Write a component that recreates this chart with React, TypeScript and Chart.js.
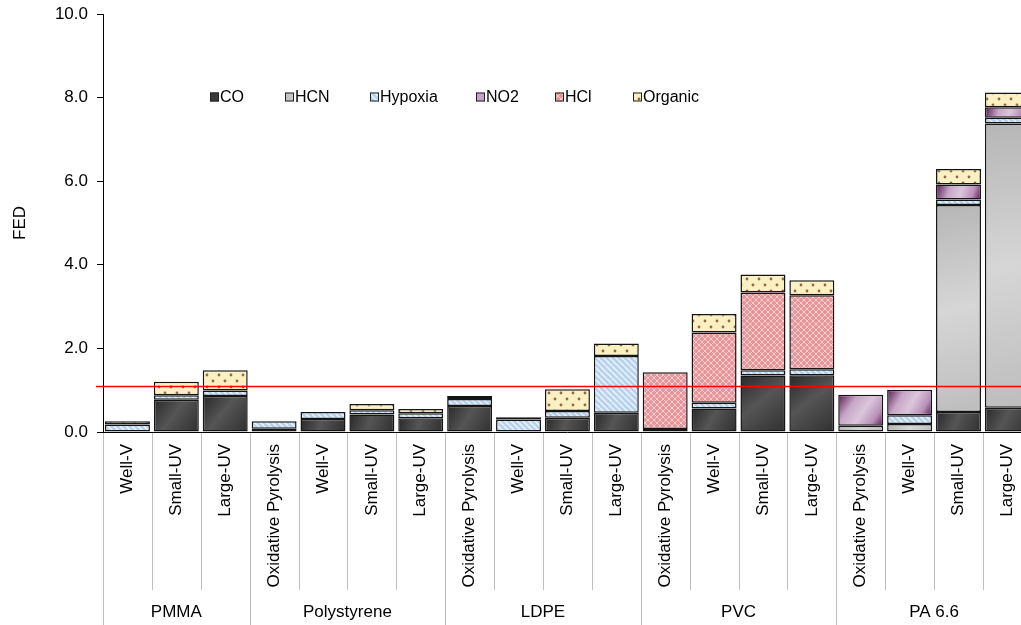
import React, { useEffect, useRef } from "react";
import { Chart, registerables } from "chart.js";

Chart.register(...registerables);

const CATEGORIES = [
  "Well-V", "Small-UV", "Large-UV",
  "Oxidative Pyrolysis", "Well-V", "Small-UV", "Large-UV",
  "Oxidative Pyrolysis", "Well-V", "Small-UV", "Large-UV",
  "Oxidative Pyrolysis", "Well-V", "Small-UV", "Large-UV",
  "Oxidative Pyrolysis", "Well-V", "Small-UV", "Large-UV",
];
const GROUPS = ["PMMA", "Polystyrene", "LDPE", "PVC", "PA 6.6"];
const GROUP_SIZES = [3, 4, 4, 4, 4];

const SERIES_NAMES = ["CO", "HCN", "Hypoxia", "NO2", "HCl", "Organic"];
const CO = [0, 0.77, 0.86, 0.08, 0.31, 0.42, 0.33, 0.62, 0, 0.34, 0.46, 0.07, 0.56, 1.35, 1.36, 0, 0, 0.48, 0.58];
const HCN = [0, 0, 0, 0, 0, 0, 0, 0, 0, 0, 0, 0, 0, 0, 0, 0.15, 0.19, 4.95, 6.8];
const HYPOXIA = [0.18, 0.11, 0.13, 0.18, 0.17, 0.1, 0.12, 0.17, 0.3, 0.16, 1.36, 0, 0.14, 0.13, 0.14, 0, 0.21, 0.13, 0.14];
const NO2 = [0, 0, 0, 0, 0, 0, 0, 0, 0, 0, 0, 0, 0, 0, 0, 0.74, 0.61, 0.36, 0.25];
const HCL = [0, 0, 0, 0, 0, 0, 0, 0, 0, 0, 0, 1.36, 1.68, 1.86, 1.77, 0, 0, 0, 0];
const ORGANIC = [0.08, 0.32, 0.49, 0, 0, 0.15, 0.1, 0.07, 0.05, 0.52, 0.3, 0, 0.44, 0.43, 0.36, 0, 0, 0.37, 0.35];
const SERIES = [CO, HCN, HYPOXIA, NO2, HCL, ORGANIC];

const Y_MIN = 0;
const Y_MAX = 10;
const Y_STEP = 2;
const Y_TITLE = "FED";
const THRESHOLD = 1.1;

const FONT = "'Liberation Sans', Arial, sans-serif";
const LEGEND_OFFSETS = [107, 182, 267, 373, 452, 530];

function segRange(ds: number, i: number): [number, number] {
  let base = 0;
  for (let k = 0; k < ds; k++) base += SERIES[k][i] || 0;
  return [base, base + (SERIES[ds][i] || 0)];
}

function gradientFill(stops: [number, string][], fallback: string) {
  return (c: any) => {
    const chart = c.chart;
    const xs = chart.scales?.x;
    const ys = chart.scales?.y;
    if (!xs || !ys || c.type !== "data" || !chart.chartArea) return fallback;
    const cx = xs.getPixelForValue(c.dataIndex);
    const [b, t] = segRange(c.datasetIndex, c.dataIndex);
    const y0 = ys.getPixelForValue(t);
    const y1 = ys.getPixelForValue(b);
    const hw = 22;
    const g = chart.ctx.createLinearGradient(cx - hw, y0, cx + hw, Math.max(y1, y0 + 1));
    stops.forEach(([o, col]) => g.addColorStop(o, col));
    return g;
  };
}

function makePattern(ctx: CanvasRenderingContext2D, size: number, draw: (g: CanvasRenderingContext2D, s: number) => void) {
  const c = document.createElement("canvas");
  c.width = size;
  c.height = size;
  const g = c.getContext("2d")!;
  draw(g, size);
  return ctx.createPattern(c, "repeat")!;
}

export default function App() {
  const ref = useRef<HTMLCanvasElement | null>(null);

  useEffect(() => {
    const canvas = ref.current!;
    const ctx = canvas.getContext("2d")!;

    const hypoxiaPat = makePattern(ctx, 6, (g, s) => {
      g.fillStyle = "#b6d2ef";
      g.fillRect(0, 0, s, s);
      g.strokeStyle = "#eaf2fb";
      g.lineWidth = 1.6;
      for (const k of [-s, 0, s]) {
        g.beginPath();
        g.moveTo(k, 0);
        g.lineTo(k + s, s);
        g.stroke();
      }
    });
    const hclPat = makePattern(ctx, 6, (g, s) => {
      g.fillStyle = "#e8959a";
      g.fillRect(0, 0, s, s);
      g.strokeStyle = "#f6cdd0";
      g.lineWidth = 1;
      for (const k of [-s, 0, s]) {
        g.beginPath();
        g.moveTo(k, 0);
        g.lineTo(k + s, s);
        g.stroke();
        g.beginPath();
        g.moveTo(k + s, 0);
        g.lineTo(k, s);
        g.stroke();
      }
    });
    const organicPat = makePattern(ctx, 12, (g, s) => {
      g.fillStyle = "#fbf0c2";
      g.fillRect(0, 0, s, s);
      g.fillStyle = "#8f6a45";
      g.beginPath();
      g.arc(3, 3, 1.4, 0, Math.PI * 2);
      g.fill();
      g.beginPath();
      g.arc(9, 9, 1.4, 0, Math.PI * 2);
      g.fill();
    });

    const fills: any[] = [
      gradientFill([[0, "#2a2a2a"], [0.45, "#555555"], [1, "#303030"]], "#444444"),
      gradientFill([[0, "#b6b6b6"], [0.5, "#d6d6d6"], [1, "#bdbdbd"]], "#c8c8c8"),
      hypoxiaPat,
      gradientFill([[0, "#5b1b56"], [0.3, "#c7a6c7"], [0.55, "#dcc5dc"], [0.8, "#b892b8"], [1, "#5b1b56"]], "#b894b8"),
      hclPat,
      organicPat,
    ];
    const legendFills = ["#3a3a3a", "#c4c4c4", hypoxiaPat, "#c6a4c6", hclPat, organicPat];

    const overlay = {
      id: "overlay",
      afterDraw(chart: any) {
        const c = chart.ctx;
        const xs = chart.scales.x;
        const ys = chart.scales.y;
        const area = chart.chartArea;
        const H = chart.height;
        const W = chart.width;
        const w = xs.getPixelForValue(1) - xs.getPixelForValue(0);
        const start = xs.getPixelForValue(0) - w / 2;
        const groupBounds: number[] = [0];
        GROUP_SIZES.forEach((n) => groupBounds.push(groupBounds[groupBounds.length - 1] + n));

        c.save();
        c.strokeStyle = "#bfbfbf";
        c.lineWidth = 1;
        for (let k = 0; k <= CATEGORIES.length; k++) {
          const x = Math.round(start + k * w) + 0.5;
          const isGroup = groupBounds.includes(k);
          c.beginPath();
          c.moveTo(x, area.bottom + 1);
          c.lineTo(x, isGroup ? H : area.bottom + 158);
          c.stroke();
        }
        c.fillStyle = "#000";
        c.font = `17px ${FONT}`;
        c.textAlign = "center";
        c.textBaseline = "middle";
        GROUPS.forEach((gname, gi) => {
          const cx = start + ((groupBounds[gi] + groupBounds[gi + 1]) / 2) * w;
          c.fillText(gname, cx, area.bottom + 180);
        });

        const yT = Math.round(ys.getPixelForValue(THRESHOLD)) + 0.5;
        c.strokeStyle = "#ff0000";
        c.lineWidth = 1.3;
        c.beginPath();
        c.moveTo(area.left - 7, yT);
        c.lineTo(W, yT);
        c.stroke();

        c.font = `16px ${FONT}`;
        c.textAlign = "left";
        c.textBaseline = "middle";
        const ly = ys.getPixelForValue(Y_MAX) + 83;
        SERIES_NAMES.forEach((name, i) => {
          const lx = area.left + LEGEND_OFFSETS[i];
          c.fillStyle = legendFills[i];
          c.fillRect(lx, ly - 4.5, 9, 9);
          c.strokeStyle = "#222";
          c.lineWidth = 1;
          c.strokeRect(lx + 0.5, ly - 4, 8, 8);
          c.fillStyle = "#000";
          c.fillText(name, lx + 10, ly + 1);
        });
        c.restore();
      },
    };

    const chart = new Chart(ctx, {
      type: "bar",
      data: {
        labels: CATEGORIES,
        datasets: SERIES.map((data, i) => ({
          label: SERIES_NAMES[i],
          data,
          backgroundColor: fills[i],
          borderColor: "#151515",
          borderWidth: 1.5,
          borderSkipped: false,
          barPercentage: 0.92,
          categoryPercentage: 1,
        })),
      },
      options: {
        responsive: false,
        animation: false,
        devicePixelRatio: 1,
        layout: { padding: { left: 0, right: 8, top: 14, bottom: 0 } },
        plugins: {
          legend: { display: false },
          tooltip: { enabled: false },
        },
        scales: {
          x: {
            stacked: true,
            grid: { display: false, drawTicks: false },
            border: { display: true, color: "#000", width: 1 },
            ticks: {
              autoSkip: false,
              maxRotation: 90,
              minRotation: 90,
              padding: 12,
              color: "#000",
              font: { family: FONT, size: 17 },
            },
            afterFit: (s: any) => {
              s.height = 193;
              s.paddingTop = 0;
              s.paddingBottom = 0;
            },
          },
          y: {
            stacked: true,
            min: Y_MIN,
            max: Y_MAX,
            ticks: {
              stepSize: Y_STEP,
              padding: 9,
              color: "#000",
              font: { family: FONT, size: 17 },
              callback: (v: any) => Number(v).toFixed(1),
            },
            grid: { display: true, drawOnChartArea: false, drawTicks: true, tickLength: 6, color: "#000" },
            border: { display: true, color: "#000", width: 1 },
            title: {
              display: true,
              text: Y_TITLE,
              color: "#000",
              font: { family: FONT, size: 17 },
              padding: { top: 10, bottom: 0 },
            },
            afterFit: (s: any) => {
              s.width = 103;
              s.paddingTop = 0;
              s.paddingBottom = 0;
            },
          },
        },
      },
      plugins: [overlay],
    });

    return () => chart.destroy();
  }, []);

  return (
    <div style={{ position: "fixed", left: 0, top: 0, width: 1021, height: 625, overflow: "hidden", background: "#fff" }}>
      <canvas ref={ref} width={1040} height={625} style={{ display: "block", width: 1040, height: 625 }} />
    </div>
  );
}
